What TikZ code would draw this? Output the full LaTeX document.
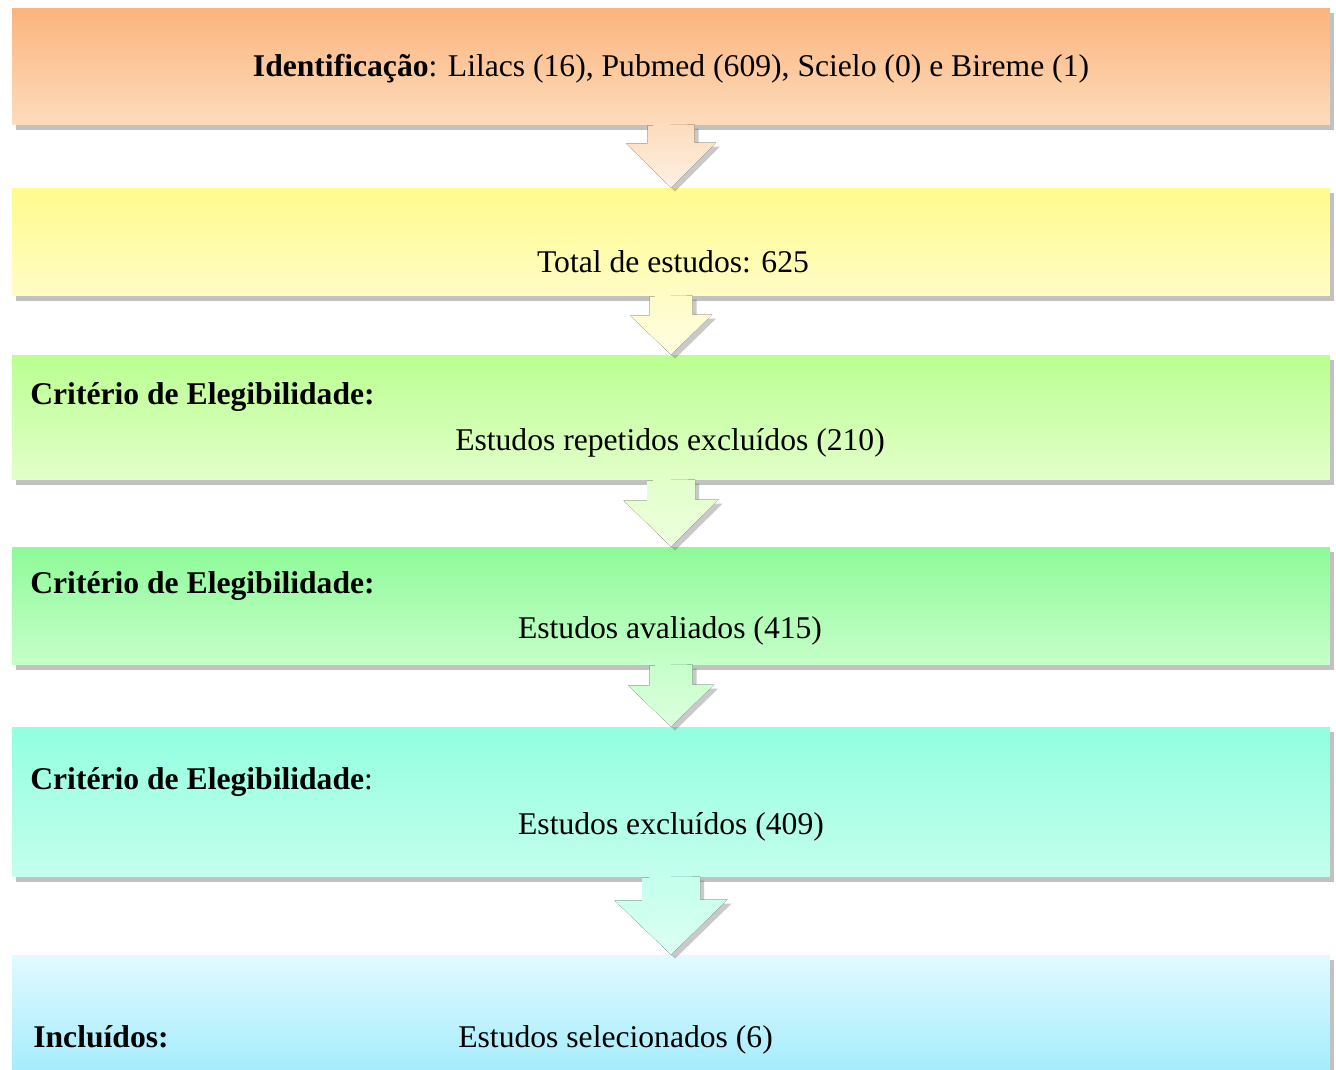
\documentclass[tikz,border=0pt]{standalone}
\usepackage{fontspec}
\setmainfont{Liberation Serif}
\usepackage{tikz}
\usetikzlibrary{calc}
\usetikzlibrary{shadows}
\usepackage{xcolor}
\definecolor{ortop}{RGB}{251,180,125}
\definecolor{orbot}{RGB}{253,220,188}
\definecolor{yetop}{RGB}{255,251,140}
\definecolor{yebot}{RGB}{255,252,198}
\definecolor{ligtop}{RGB}{186,255,145}
\definecolor{ligbot}{RGB}{226,255,202}
\definecolor{grtop}{RGB}{142,250,152}
\definecolor{grbot}{RGB}{198,255,202}
\definecolor{aqtop}{RGB}{146,255,224}
\definecolor{aqbot}{RGB}{196,255,236}
\definecolor{bltop}{RGB}{226,250,255}
\definecolor{blbot}{RGB}{160,235,252}

\begin{document}
\begin{tikzpicture}[x=0.02cm, y=-0.02cm,
	box/.style={rectangle, draw=none, inner sep=0pt, minimum width=26.36cm,
		drop shadow={shadow xshift=0.08cm, shadow yshift=-0.1cm, opacity=0.35, fill=black!70}},
	arr/.style={draw=none,
		drop shadow={shadow xshift=0.08cm, shadow yshift=-0.08cm, opacity=0.3, fill=black!70}},
	txt/.style={inner sep=0pt, font=\fontsize{18}{22}\selectfont}]
	\useasboundingbox (0,0) rectangle (1336,1070);
	
	\node[box, minimum height=2.34cm, top color=ortop, bottom color=orbot] (b1) at (671,66.5) {};
	\node[box, minimum height=2.16cm, top color=yetop, bottom color=yebot] (b2) at (671,242) {};
	\node[box, minimum height=2.5cm, top color=ligtop, bottom color=ligbot] (b3) at (671,417.5) {};
	\node[box, minimum height=2.36cm, top color=grtop, bottom color=grbot] (b4) at (671,606) {};
	\node[box, minimum height=3cm, top color=aqtop, bottom color=aqbot] (b5) at (671,802) {};
	\node[box, minimum height=2.5cm, top color=bltop, bottom color=blbot] (b6) at (671,1017.5) {};
	
	% setas entre as caixas
	\fill[arr, top color=orbot, bottom color=orbot!40] ($(b1.south)+(-23.5,0)$) -- ++(0,18) -- ++(-21.5,0) -- (b2.north) -- ++(45,-45) -- ++(-21.5,0) -- ++(0,-18) -- cycle;
	\fill[arr, top color=yebot, bottom color=yebot!50] ($(b2.south)+(-21.5,0)$) -- ++(0,19) -- ++(-19.5,0) -- (b3.north) -- ++(41,-40) -- ++(-19.5,0) -- ++(0,-19) -- cycle;
	\fill[arr, top color=ligbot, bottom color=ligbot!60] ($(b3.south)+(-24,0)$) -- ++(0,20) -- ++(-23.5,0) -- (b4.north) -- ++(47.5,-47) -- ++(-23.5,0) -- ++(0,-20) -- cycle;
	\fill[arr, top color=grbot, bottom color=grbot!60] ($(b4.south)+(-21.5,0)$) -- ++(0,20) -- ++(-21.5,0) -- (b5.north) -- ++(43,-42) -- ++(-21.5,0) -- ++(0,-20) -- cycle;
	\fill[arr, top color=aqbot, bottom color=aqbot!60] ($(b5.south)+(-29,0)$) -- ++(0,23) -- ++(-27.5,0) -- (b6.north) -- ++(56.5,-55) -- ++(-27.5,0) -- ++(0,-23) -- cycle;
	
	\node[txt, anchor=base] (t1) at (671,77) {\textbf{Identificação}: Lilacs (16), Pubmed (609), Scielo (0) e Bireme (1)};
	\node[txt, anchor=base] (t2) at (673,273) {Total de estudos: 625};
	
	\node[txt, anchor=base west] (c3) at (30,405) {\textbf{Critério de Elegibilidade:}};
	\node[txt, anchor=base] (t3) at (670,451) {Estudos repetidos excluídos (210)};
	
	\node[txt, anchor=base west] (c4) at (30,594) {\textbf{Critério de Elegibilidade:}};
	\node[txt, anchor=base] (t4) at (670,639) {Estudos avaliados (415)};
	
	\node[txt, anchor=base west] (c5) at (30,790) {\textbf{Critério de Elegibilidade}:};
	\node[txt, anchor=base] (t5) at (671,835) {Estudos excluídos (409)};
	
	\node[txt, anchor=base west] (c6) at (33,1047) {\textbf{Incluídos:}};
	\node[txt, anchor=base west] (t6) at (458,1047) {Estudos selecionados (6)};
\end{tikzpicture}
\end{document}
